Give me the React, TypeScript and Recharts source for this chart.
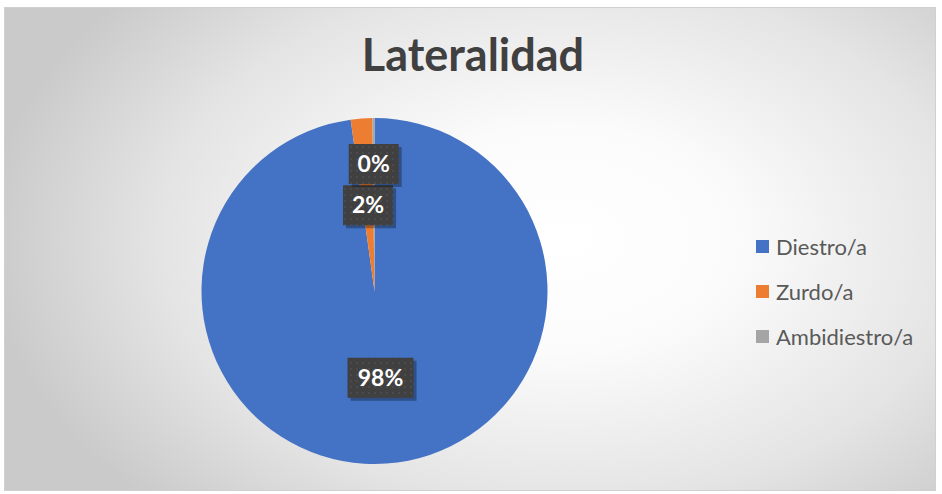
import { PieChart, Pie, Cell, Legend } from "recharts";

const categories = ["Diestro/a", "Zurdo/a", "Ambidiestro/a"];
const shares = [97.8, 2.0, 0.2];
const percentLabels = ["98%", "2%", "0%"];
const colors = ["#4472C4", "#ED7D31", "#A5A5A5"];

const data = categories.map((name, i) => ({ name, value: shares[i], label: percentLabels[i] }));

// label distance from the centre, per slice (Excel "best fit" look)
const labelRadii = [87, 86, 127];
const RAD = Math.PI / 180;

const renderLabel = (props: any) => {
  const { cx, cy, midAngle, index } = props;
  const r = labelRadii[index];
  const x = cx + r * Math.cos(-midAngle * RAD);
  const y = cy + r * Math.sin(-midAngle * RAD);
  const text = data[index].label;
  const w = text.length > 2 ? 66 : 50;
  const h = 40;
  return (
    <g>
      <rect x={x - w / 2 + 3} y={y - h / 2 + 3} width={w} height={h} fill="rgba(0,0,0,0.3)" />
      <rect x={x - w / 2} y={y - h / 2} width={w} height={h} fill="#404040" />
      <rect x={x - w / 2} y={y - h / 2} width={w} height={h} fill="url(#dots)" />
      <text
        x={x}
        y={y + 8}
        textAnchor="middle"
        fill="#ffffff"
        fontFamily="Lato, 'Open Sans', sans-serif"
        fontWeight={700}
        fontSize={23}
      >
        {text}
      </text>
    </g>
  );
};

const renderLegend = () => (
  <div style={{ fontFamily: "Lato, 'Open Sans', sans-serif", fontSize: 22, color: "#595959" }}>
    {data.map((d, i) => (
      <div key={d.name} style={{ display: "flex", alignItems: "center", height: 45 }}>
        <span style={{ width: 13, height: 13, background: colors[i], marginRight: 7 }} />
        <span>{d.name}</span>
      </div>
    ))}
  </div>
);

export default function App() {
  return (
    <div
      style={{
        position: "absolute",
        left: 0,
        top: 0,
        width: 942,
        height: 494,
        background: "#ffffff",
      }}
    >
      <div
        style={{
          position: "absolute",
          left: 4,
          top: 7,
          width: 932,
          height: 484,
          boxSizing: "border-box",
          border: "1px solid #d0d0d0",
          background: "radial-gradient(ellipse 62% 78% at 60% 48%, #ffffff 0%, #fbfbfb 30%, #e4e4e4 70%, #cacaca 100%)",
        }}
      />
      <div
        style={{
          position: "absolute",
          left: 0,
          top: 27,
          width: 946,
          textAlign: "center",
          fontFamily: "Lato, 'Open Sans', sans-serif",
          fontWeight: 700,
          fontSize: 45,
          color: "#404040",
        }}
      >
        Lateralidad
      </div>
      <div style={{ position: "absolute", left: 0, top: 0 }}>
        <PieChart width={942} height={494} margin={{ top: 0, right: 0, bottom: 0, left: 0 }}>
          <defs>
            <pattern id="dots" width="6" height="6" patternUnits="userSpaceOnUse">
              <rect x="2" y="2" width="2" height="2" fill="#4b4b4b" />
            </pattern>
          </defs>
          <Pie
            data={data}
            dataKey="value"
            nameKey="name"
            cx={374.5}
            cy={291}
            outerRadius={173}
            startAngle={90}
            endAngle={-270}
            stroke="none"
            label={renderLabel}
            labelLine={false}
            isAnimationActive={false}
          >
            {data.map((d, i) => (
              <Cell key={d.name} fill={colors[i]} />
            ))}
          </Pie>
          <Legend
            layout="vertical"
            align="right"
            verticalAlign="top"
            content={renderLegend}
            wrapperStyle={{ left: 756, top: 224, width: 184 }}
          />
        </PieChart>
      </div>
    </div>
  );
}
